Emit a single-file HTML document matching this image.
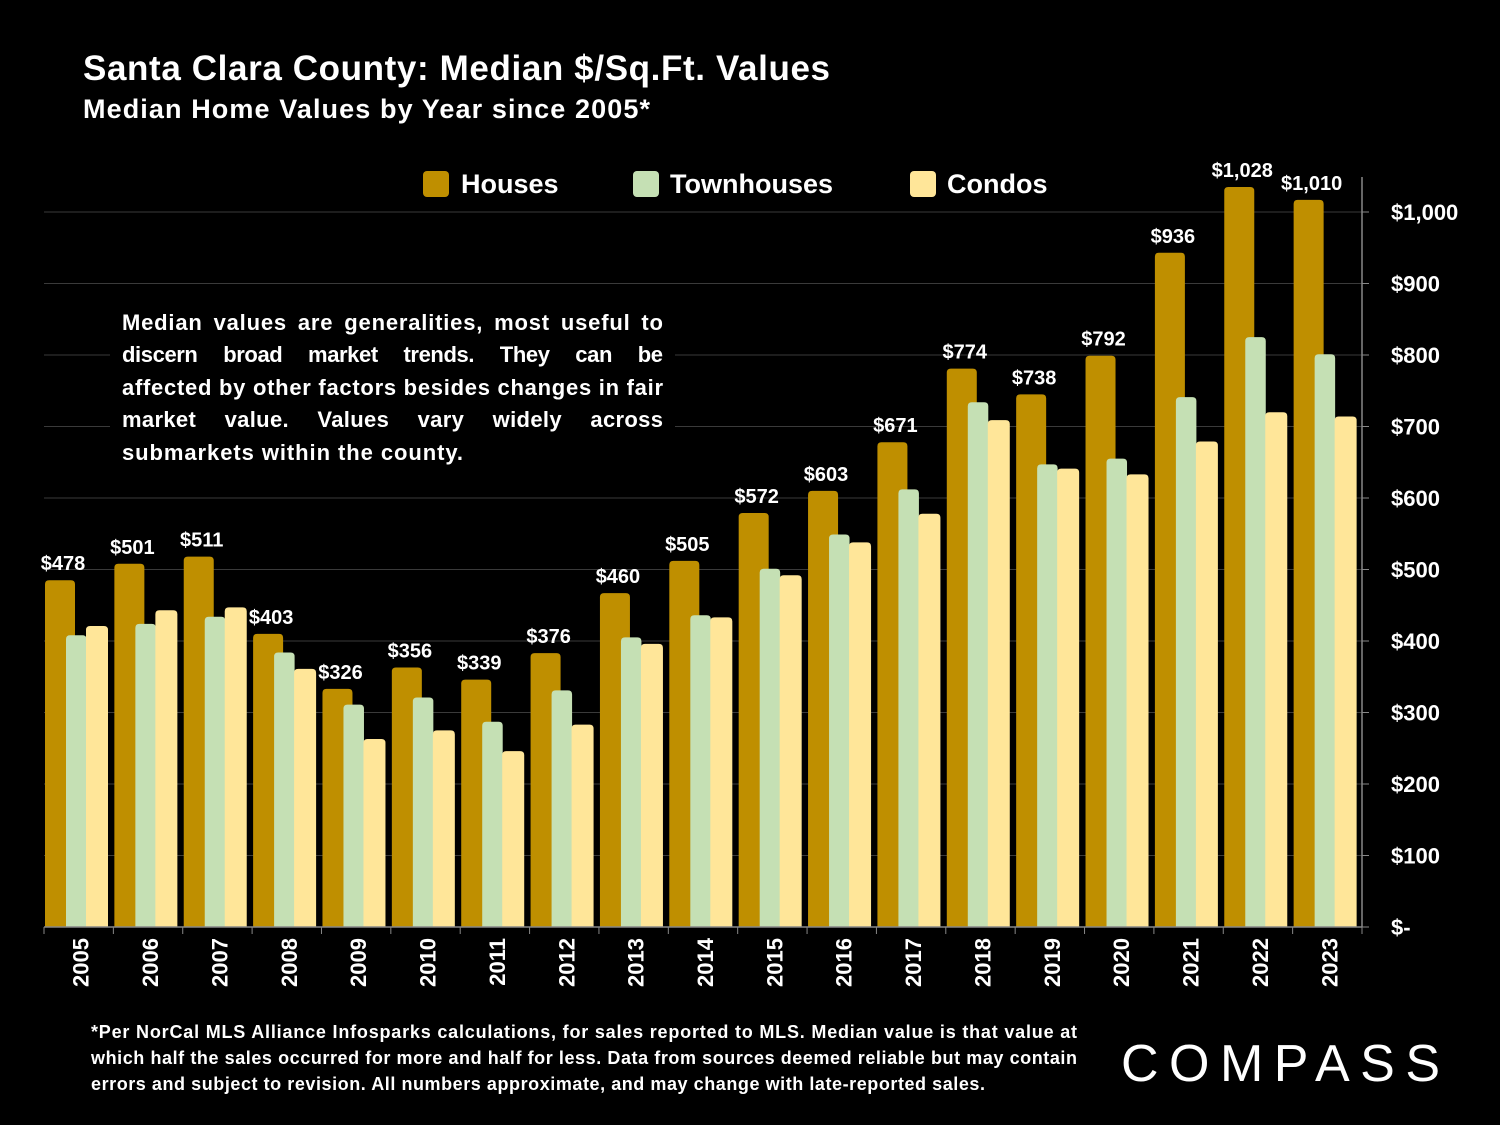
<!DOCTYPE html>
<html><head><meta charset="utf-8"><style>
body{margin:0;background:#000;width:1500px;height:1125px;overflow:hidden;font-family:"Liberation Sans",sans-serif;color:#fff}
</style></head><body>
<svg id="chart" width="1500" height="1125" xmlns="http://www.w3.org/2000/svg" style="position:absolute;left:0;top:0">
<text x="83" y="80" font-size="35" font-weight="bold" fill="#fff" textLength="747" lengthAdjust="spacing">Santa Clara County: Median $/Sq.Ft. Values</text>
<text x="83" y="118" font-size="27" font-weight="bold" fill="#fff" textLength="567" lengthAdjust="spacing">Median Home Values by Year since 2005*</text>
<g id="grid"></g>
<g id="bars"></g>
<g id="axes"></g>
<g font-size="27" font-weight="bold" fill="#fff">
<rect x="423" y="171" width="26" height="26" rx="4" fill="#BF8F00"/>
<text x="461" y="193">Houses</text>
<rect x="633" y="171" width="26" height="26" rx="4" fill="#C5E0B4"/>
<text x="670" y="193">Townhouses</text>
<rect x="910" y="171" width="26" height="26" rx="4" fill="#FFE699"/>
<text x="947" y="193">Condos</text>
</g>
<rect x="110" y="302" width="565" height="170" fill="#000"/>
<g font-size="22" font-weight="bold" fill="#fff">
<text x="122" y="330" textLength="541" lengthAdjust="spacing" word-spacing="4">Median values are generalities, most useful to</text>
<text x="122" y="362" textLength="541" lengthAdjust="spacing" word-spacing="20">discern broad market trends. They can be</text>
<text x="122" y="395" textLength="541" lengthAdjust="spacing">affected by other factors besides changes in fair</text>
<text x="122" y="427" textLength="541" lengthAdjust="spacing" word-spacing="22">market value. Values vary widely across</text>
<text x="122" y="460" textLength="341" lengthAdjust="spacing">submarkets within the county.</text>
</g>
<g font-size="18" font-weight="bold" fill="#fff">
<text x="91" y="1038" textLength="986" lengthAdjust="spacing">*Per NorCal MLS Alliance Infosparks calculations, for sales reported to MLS. Median value is that value at</text>
<text x="91" y="1064" textLength="986" lengthAdjust="spacing">which half the sales occurred for more and half for less. Data from sources deemed reliable but may contain</text>
<text x="91" y="1090" textLength="894" lengthAdjust="spacing">errors and subject to revision. All numbers approximate, and may change with late-reported sales.</text>
</g>
<text x="1121" y="1081" font-size="52" fill="#fff" textLength="319" lengthAdjust="spacing">COMPASS</text>
</svg>
<script>
const years=["2005","2006","2007","2008","2009","2010","2011","2012","2013","2014","2015","2016","2017","2018","2019","2020","2021","2022","2023"];
const houses=[478,501,511,403,326,356,339,376,460,505,572,603,671,774,738,792,936,1028,1010];
const townhouses=[408,424,434,384,311,321,287,331,405,436,501,549,612,734,647,655,741,825,801];
const condos=[421,443,447,361,263,275,246,283,396,433,492,538,578,709,641,633,679,720,714];
const tickValues=[0,100,200,300,400,500,600,700,800,900,1000];
const tickLabels=["$-","$100","$200","$300","$400","$500","$600","$700","$800","$900","$1,000"];
const NS="http://www.w3.org/2000/svg";
const x0=44,x1=1362,y0=927,pxPer=0.715;
const gw=(x1-x0)/years.length;
function y(v){return y0-v*pxPer;}
function gx(i){return x0+i*gw;}
function mk(tag,attrs,parent){const e=document.createElementNS(NS,tag);for(const k in attrs)e.setAttribute(k,attrs[k]);parent.appendChild(e);return e;}
const grid=document.getElementById('grid'),bars=document.getElementById('bars'),axes=document.getElementById('axes');
tickValues.forEach((v,i)=>{
  if(v>0){const l=mk('line',{x1:x0,x2:x1,y1:y(v),y2:y(v),stroke:'#3a3a3a','stroke-width':1},grid);
  
  }
  const t=mk('text',{x:x1+29,y:y(v)+8,'font-size':22,'font-weight':'bold',fill:'#fff'},axes);
  t.textContent=tickLabels[i];
  
  
  const tk=mk('line',{x1:x1,x2:x1+7,y1:y(v),y2:y(v),stroke:'#888'},axes);
  
  
});
const ya=mk('line',{x1:x1,x2:x1,y1:y(1000)-35,y2:y0,stroke:'#888','stroke-width':1.5},axes);


const xa=mk('line',{x1:x0,x2:x1,y1:y0,y2:y0,stroke:'#888','stroke-width':1.5},axes);


function bar(xl,w,t,color,name){
  const p=mk('path',{d:`M${xl},${y0}V${t+4}Q${xl},${t} ${xl+4},${t}H${xl+w-4}Q${xl+w},${t} ${xl+w},${t+4}V${y0}Z`,fill:color},bars);
  
  
}
years.forEach((yr,i)=>{
  const g=gx(i);
  const ht=y(houses[i])-5;
  bar(g+1,30,ht,'#BF8F00','bar-houses-'+yr);
  bar(g+22,20.5,y(townhouses[i]),'#C5E0B4','bar-townhouses-'+yr);
  bar(g+42,22,y(condos[i]),'#FFE699','bar-condos-'+yr);
  const lbl=mk('text',{x:g+19,y:ht-10,'font-size':20,'font-weight':'bold',fill:'#fff','text-anchor':'middle'},axes);
  lbl.textContent='$'+houses[i].toLocaleString('en-US');
  
  
  const tk=mk('line',{x1:g,x2:g,y1:y0,y2:y0+7,stroke:'#888'},axes);
  
  
  const cx=g+gw/2+2,cy=y0+11;
  const t=mk('text',{x:0,y:0,'font-size':22,'font-weight':'bold',fill:'#fff','text-anchor':'end',transform:`translate(${cx+8},${cy}) rotate(-90)`},axes);
  t.textContent=yr;
  
  
});
const lt=mk('line',{x1:x1,x2:x1,y1:y0,y2:y0+7,stroke:'#888'},axes);


</script>
</body></html>
